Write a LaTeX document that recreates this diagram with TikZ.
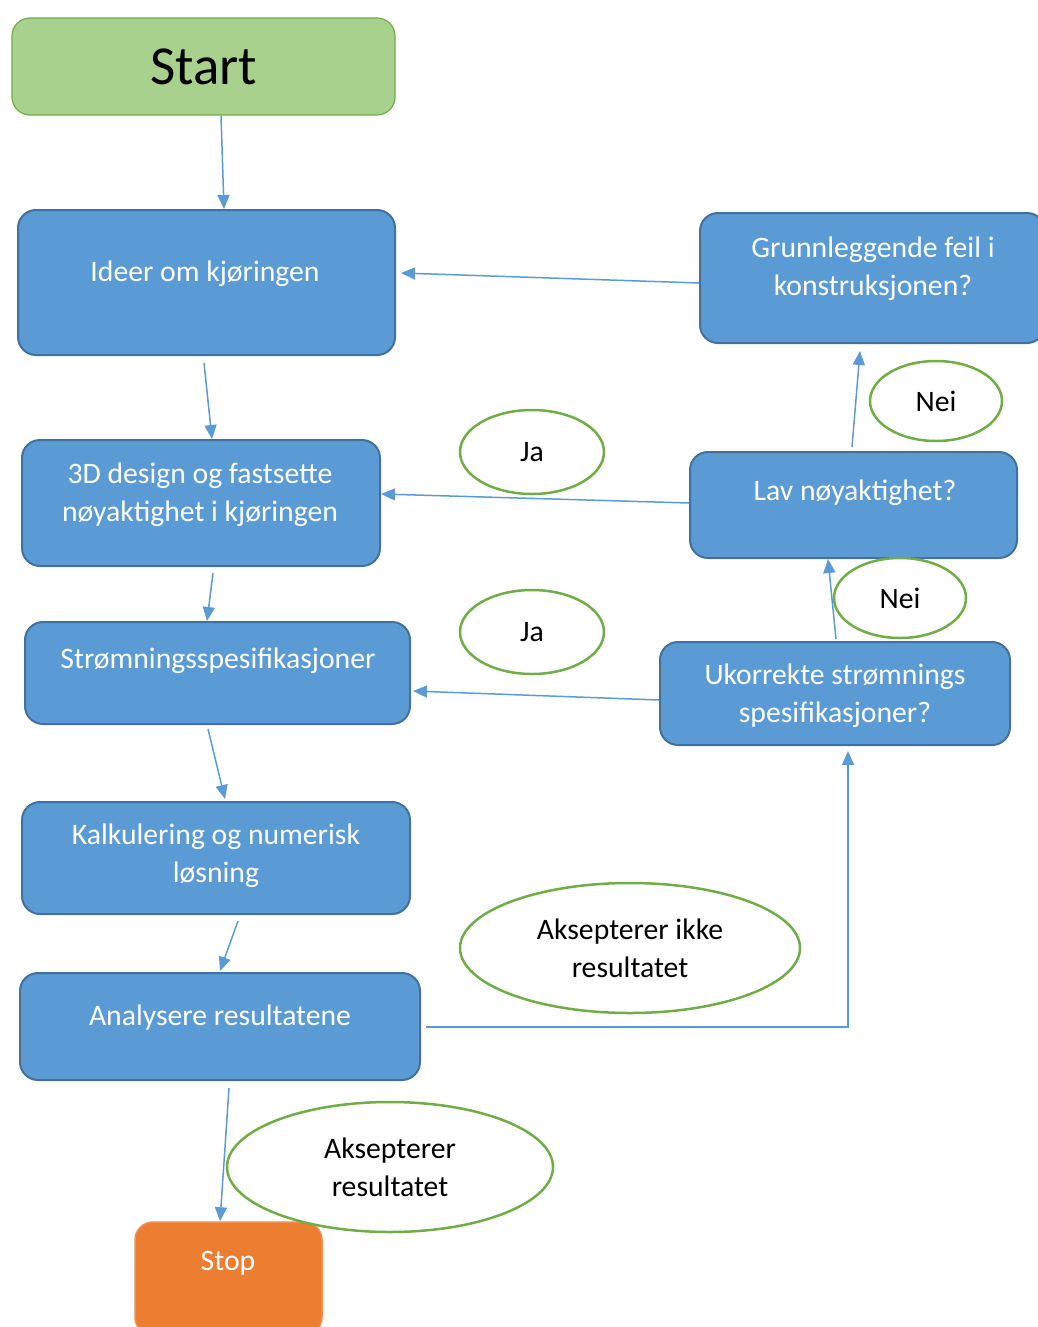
\documentclass[tikz,border=0pt]{standalone}
\usepackage{fontspec}
\setmainfont{Carlito}
\usetikzlibrary{shapes.geometric,calc,arrows.meta}
\definecolor{boxblue}{HTML}{5B9BD5}
\definecolor{boxedge}{HTML}{41719C}
\definecolor{arrblue}{HTML}{5B9BD5}
\definecolor{okgreen}{HTML}{70AD47}
\definecolor{startgreen}{HTML}{A9D18E}
\definecolor{stoporange}{HTML}{ED7D31}
\tikzset{
  bluebox/.style={draw=boxedge, line width=2pt, fill=boxblue, rounded corners=18pt, inner sep=0pt},
  txt/.style={text=white, align=center, font=\fontsize{29.7}{38}\selectfont, inner sep=0pt},
  oval/.style={ellipse, draw=okgreen, line width=2.5pt, fill=white, align=center, inner sep=0pt, font=\fontsize{29.7}{38}\selectfont},
  arr/.style={draw=arrblue, line width=1.5pt, -{Triangle[length=14pt,width=12pt]}}
}
\begin{document}
\begin{tikzpicture}[x=1pt,y=-1pt]
\useasboundingbox (0,0) rectangle (1038,1327);
% boxes
\node[draw=okgreen, line width=1.2pt, fill=startgreen, rounded corners=18pt, minimum width=383pt, minimum height=97pt, inner sep=0pt, font=\fontsize{55}{64}\selectfont] (start) at (203.5,66.5) {Start};
\node[bluebox, minimum width=377pt, minimum height=145pt] (ideer) at (206.5,282.5) {};
\node[txt] at (205,274) {Ideer om kjøringen};
\node[bluebox, minimum width=345pt, minimum height=130pt] (grunn) at (872.5,278) {};
\node[txt] at (873,269) {Grunnleggende feil i\\konstruksjonen?};
\node[bluebox, minimum width=358pt, minimum height=126pt] (d3) at (201,503) {};
\node[txt] at (200,495) {3D design og fastsette\\nøyaktighet i kjøringen};
\node[bluebox, minimum width=327pt, minimum height=106pt] (lav) at (853.5,505) {};
\node[txt] at (855,493) {Lav nøyaktighet?};
\node[bluebox, minimum width=385pt, minimum height=102pt] (strom) at (217.5,673) {};
\node[txt] at (218,661) {Strømningsspesifikasjoner};
\node[bluebox, minimum width=350pt, minimum height=103pt] (ukor) at (835,693.5) {};
\node[txt] at (835,696) {Ukorrekte strømnings\\spesifikasjoner?};
\node[bluebox, minimum width=388pt, minimum height=112pt] (kalk) at (216,858) {};
\node[txt] at (216,856) {Kalkulering og numerisk\\løsning};
\node[bluebox, minimum width=400pt, minimum height=107pt] (anal) at (220,1026.5) {};
\node[txt] at (220,1018) {Analysere resultatene};
\node[draw=stoporange!85!white, line width=1.5pt, fill=stoporange, rounded corners=18pt, minimum width=187pt, minimum height=113pt, inner sep=0pt] (stop) at (228.5,1278.5) {};
\node[txt] at (228,1263) {Stop};
% ovals
\node[oval, minimum width=132pt, minimum height=80pt] (nei1) at (936,401) {Nei};
\node[oval, minimum width=144pt, minimum height=84pt] (ja1) at (532,452) {Ja};
\node[oval, minimum width=144pt, minimum height=84pt] (ja2) at (532,632) {Ja};
% connectors
\draw[arr] ($(start.south)+(17.5,0)$) -- ($(ideer.north)+(17.5,0)$);
\draw[arr] ($(ideer.south)+(-2.5,7)$) -- ($(d3.north)+(11,0)$);
\draw[arr] ($(d3.south)+(12,6)$) -- ($(strom.north)+(-10.5,0)$);
\draw[arr] ($(strom.south)+(-9.5,4)$) -- ($(kalk.north)+(9,-2)$);
\draw[arr] ($(kalk.south)+(22,6)$) -- ($(anal.north)+(0,-1)$);
\draw[arr] ($(anal.south)+(9,7)$) -- ($(stop.north)+(-8.5,0)$);
\draw[arr] ($(grunn.west)+(0,5)$) -- ($(ideer.east)+(5,-9.5)$);
\draw[arr] ($(lav.west)+(0,-2)$) -- ($(d3.east)+(0,-9)$);
\draw[arr] ($(ukor.west)+(0,6.5)$) -- ($(strom.east)+(2,18)$);
\draw[arr] ($(lav.north)+(-1.5,-4)$) -- ($(grunn.south)+(-12.5,7)$);
\draw[arr] ($(ukor.north)+(1,-2)$) -- ($(lav.south)+(-25.5,0)$);
\draw[arr] ($(anal.east)+(5,0.5)$) -| ($(ukor.south)+(13,5)$);
% ovals drawn over connectors
\node[oval, minimum width=132pt, minimum height=80pt] (nei2) at (900,598) {Nei};
\node[oval, minimum width=340pt, minimum height=130pt] (akikke) at (630,948) {Aksepterer ikke\\resultatet};
\node[oval, minimum width=326pt, minimum height=130pt] (ak) at (390,1167) {Aksepterer\\resultatet};
\end{tikzpicture}
\end{document}
